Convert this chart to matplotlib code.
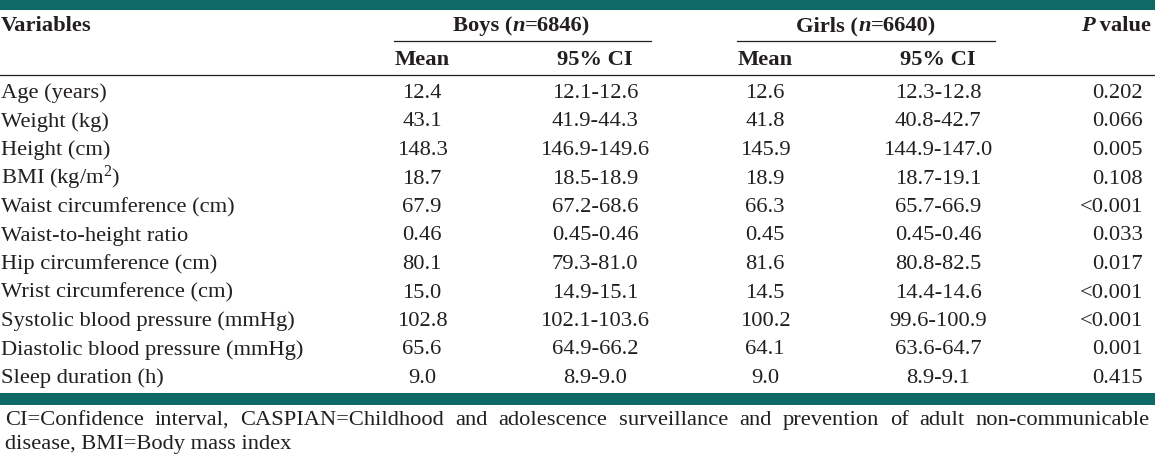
import matplotlib
matplotlib.use('Agg')
import matplotlib.pyplot as plt
from matplotlib.patches import Rectangle

variables = ['Age (years)', 'Weight (kg)', 'Height (cm)', 'BMI (kg/m$^{2}$)',
             'Waist circumference (cm)', 'Waist-to-height ratio',
             'Hip circumference (cm)', 'Wrist circumference (cm)',
             'Systolic blood pressure (mmHg)', 'Diastolic blood pressure (mmHg)',
             'Sleep duration (h)']
boys_mean = ['12.4', '43.1', '148.3', '18.7', '67.9', '0.46', '80.1', '15.0', '102.8', '65.6', '9.0']
boys_ci = ['12.1-12.6', '41.9-44.3', '146.9-149.6', '18.5-18.9', '67.2-68.6', '0.45-0.46',
           '79.3-81.0', '14.9-15.1', '102.1-103.6', '64.9-66.2', '8.9-9.0']
girls_mean = ['12.6', '41.8', '145.9', '18.9', '66.3', '0.45', '81.6', '14.5', '100.2', '64.1', '9.0']
girls_ci = ['12.3-12.8', '40.8-42.7', '144.9-147.0', '18.7-19.1', '65.7-66.9', '0.45-0.46',
            '80.8-82.5', '14.4-14.6', '99.6-100.9', '63.6-64.7', '8.9-9.1']
p_values = ['0.202', '0.066', '0.005', '0.108', '<0.001', '0.033', '0.017', '<0.001',
            '<0.001', '0.001', '0.415']
footnote = ['CI=Confidence interval, CASPIAN=Childhood and adolescence surveillance and '
            'prevention of adult non-communicable',
            'disease, BMI=Body mass index']

plt.rcParams['font.family'] = 'Liberation Serif'
plt.rcParams['mathtext.fontset'] = 'custom'
plt.rcParams['mathtext.rm'] = 'Liberation Serif'
plt.rcParams['mathtext.it'] = 'Liberation Serif:italic'

W, H = 1155, 462
FS = 16.2
TEAL = '#0f6a67'
INK = '#231f20'

fig = plt.figure(figsize=(W / 100, H / 100), dpi=100)
ax = fig.add_axes([0, 0, 1, 1])
ax.set_xlim(0, W)
ax.set_ylim(H, 0)
ax.axis('off')
r = fig.canvas.get_renderer()


def width(t):
    return t.get_window_extent(renderer=r).width


def runs(x, y, parts):
    # draw mixed-style text centred on x
    objs = [ax.text(0, y, s, fontsize=FS, color=INK, va='baseline', **kw) for s, kw in parts]
    ws = [width(o) for o in objs]
    cur = x - sum(ws) / 2
    for o, w in zip(objs, ws):
        o.set_x(cur)
        cur += w


# teal rules
ax.add_patch(Rectangle((0, 0), W, 10, color=TEAL, lw=0))
ax.add_patch(Rectangle((0, 393), W, 12, color=TEAL, lw=0))

# header
bold = dict(fontweight='bold')
ax.text(1, 31, 'Variables', fontsize=FS, color=INK, va='baseline', **bold)
runs(522, 31, [('Boys (', bold), ('n', dict(fontweight='bold', style='italic')), ('=6846)', bold)])
runs(866, 31, [('Girls (', bold), ('n', dict(fontweight='bold', style='italic')), ('=6640)', bold)])
runs(1116, 31, [('P', dict(fontweight='bold', style='italic')), (' value', bold)])
ax.plot([394, 651], [41, 41], color=INK, lw=0.9)
ax.plot([737, 995], [41, 41], color=INK, lw=0.9)

col_x = [422, 595, 765, 938]
for cx, lab in zip(col_x, ['Mean', '95% CI', 'Mean', '95% CI']):
    ax.text(cx, 65, lab, fontsize=FS, color=INK, va='baseline', ha='center', **bold)
ax.plot([0, W], [75, 75], color=INK, lw=0.9)

# body
for i, name in enumerate(variables):
    y = 98 + 28.5 * i
    ax.text(1, y, name, fontsize=FS, color=INK, va='baseline')
    for cx, col in zip(col_x, [boys_mean, boys_ci, girls_mean, girls_ci]):
        ax.text(cx, y, col[i], fontsize=FS, color=INK, va='baseline', ha='center')
    ax.text(1143, y, p_values[i], fontsize=FS, color=INK, va='baseline', ha='right')

# footnote, first line justified
words = footnote[0].split(' ')
objs = [ax.text(0, 425, w_, fontsize=FS, color=INK, va='baseline') for w_ in words]
ws = [width(o) for o in objs]
left, right = 5, 1150
gap = (right - left - sum(ws)) / (len(words) - 1)
cur = left
for o, w_ in zip(objs, ws):
    o.set_x(cur)
    cur += w_ + gap
ax.text(left, 449, footnote[1], fontsize=FS, color=INK, va='baseline')

fig.savefig('out.png', dpi=100)
